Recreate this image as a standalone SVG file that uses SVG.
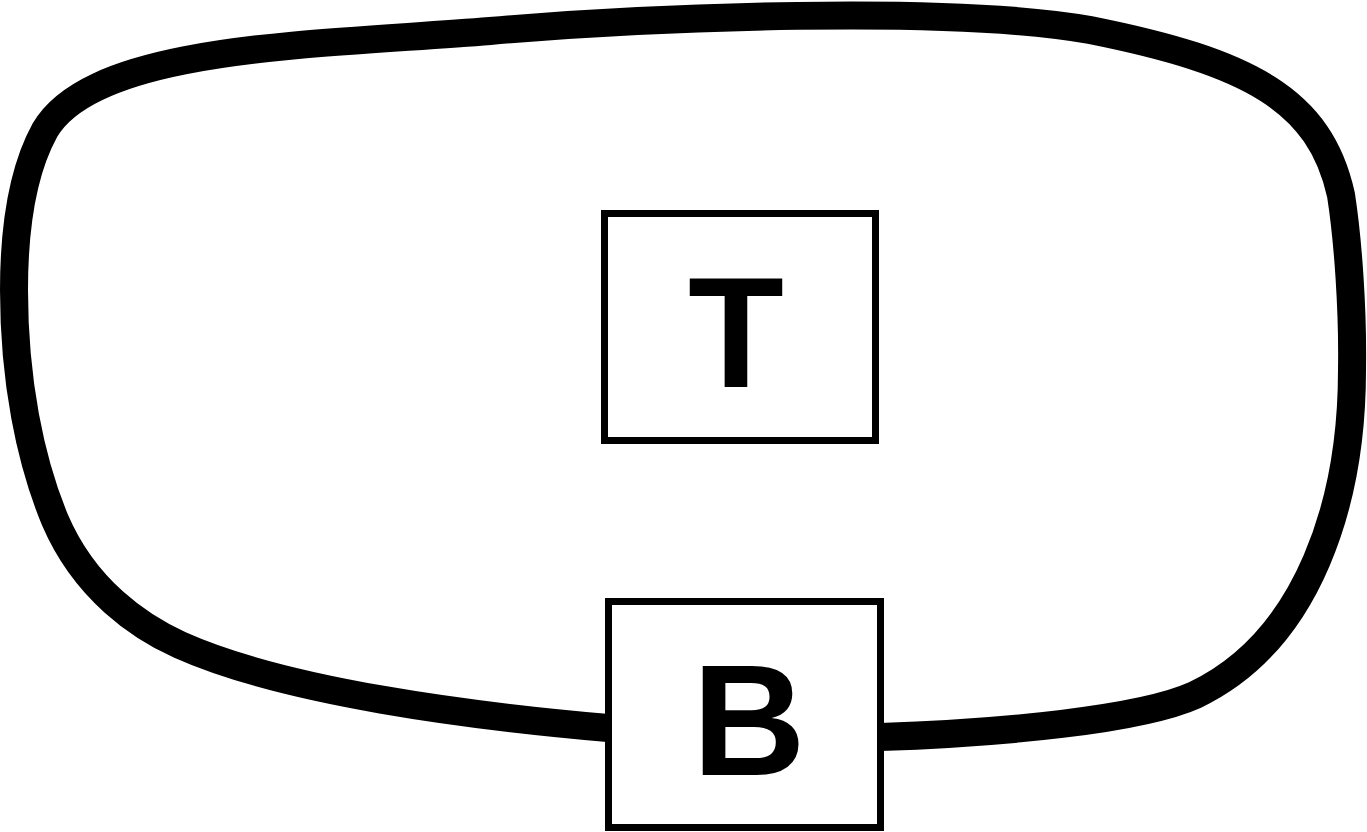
<svg xmlns="http://www.w3.org/2000/svg" width="1367" height="832" viewBox="0 0 1367 832">
<style>
.node{fill:#fff;stroke:#000;stroke-width:7}
.lbl{font-family:"Liberation Sans",Arial,sans-serif;font-weight:bold;font-size:157px;fill:#000;text-anchor:middle}
.wire{fill:none;stroke:#000;stroke-width:28;stroke-linecap:butt;stroke-linejoin:round}
</style>
<rect width="1367" height="832" fill="#fff"/>
<g id="connectors">
<path class="wire" d="M 608,728 C 470,716 285,692 180,645 C 140,627 85,590 55,520 C 30,460 14,380 14,290 C 14,220 24,168 45,130 C 95,45 320,45 490,31 C 650,17 950,5 1090,30 C 1250,62 1320,100 1341,195 C 1348,240 1353,310 1352,370 C 1352,500 1310,640 1195,695 C 1140,720 1000,733 880,737"/>
</g>
<g id="node-T">
<rect class="node" x="604.5" y="213.5" width="271" height="227"/>
<text class="lbl" x="736" y="387">T</text>
</g>
<g id="node-B">
<rect class="node" x="608.5" y="601.5" width="272" height="226"/>
<text class="lbl" x="749" y="775">B</text>
</g>
</svg>
